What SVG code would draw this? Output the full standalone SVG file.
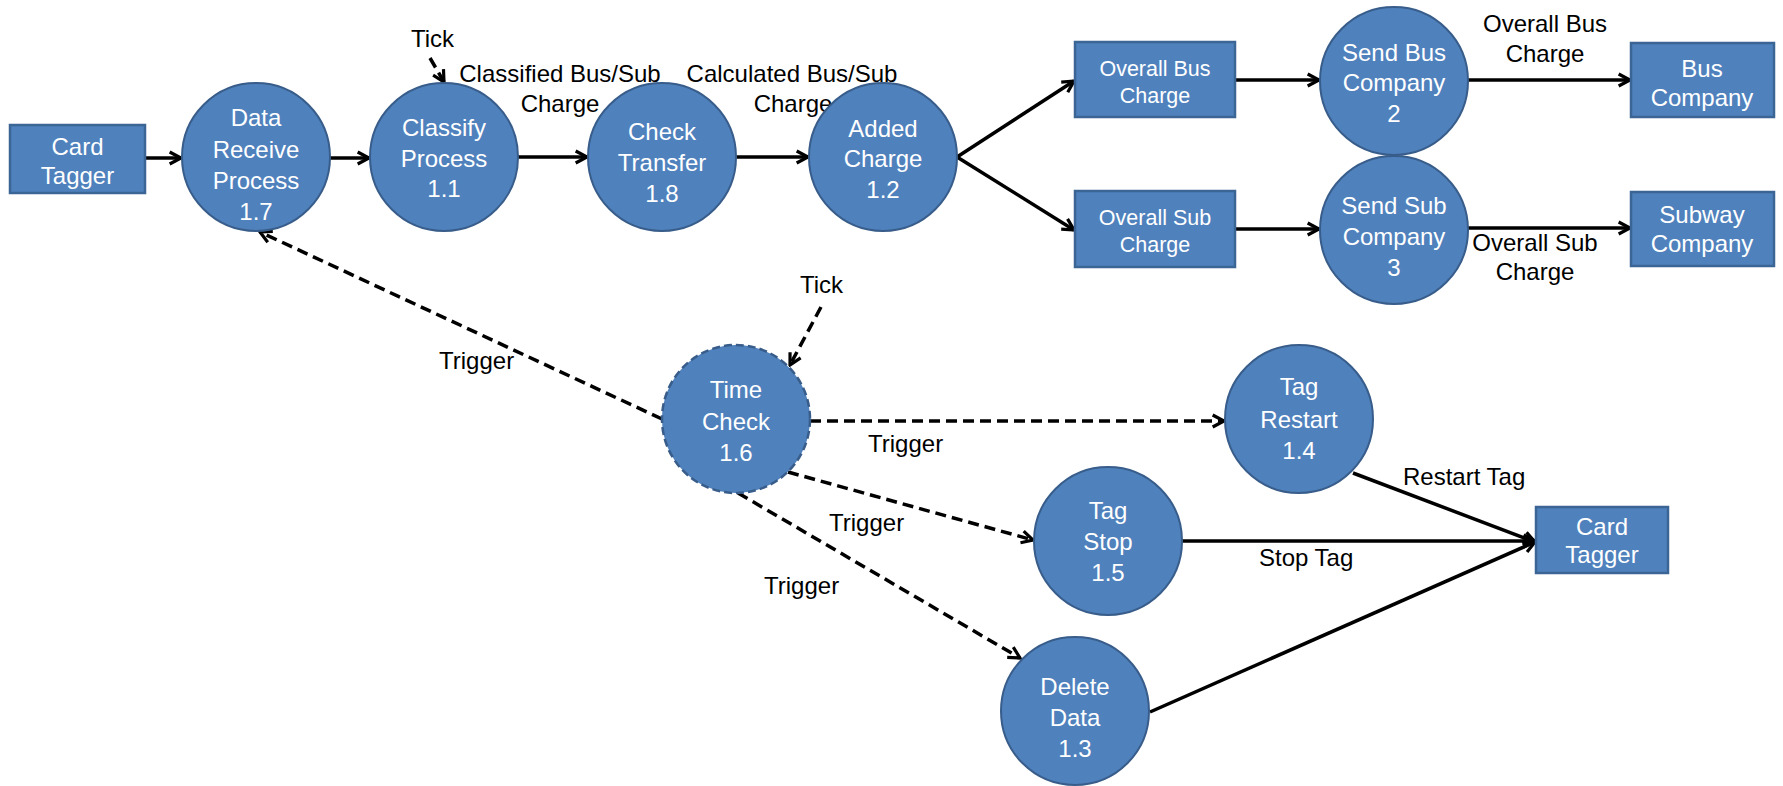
<svg xmlns="http://www.w3.org/2000/svg" width="1783" height="786" viewBox="0 0 1783 786">
<style>
.proc{fill:#4F81BD;stroke:#385D8A;stroke-width:2}
.proc-d{fill:#4F81BD;stroke:#385D8A;stroke-width:2.5;stroke-dasharray:8 4}
.box{fill:#4F81BD;stroke:#3A6594;stroke-width:2.5}
.nt{font-family:"Liberation Sans",Arial,sans-serif;font-size:24px;fill:#fff;text-anchor:middle}
.bt{font-family:"Liberation Sans",Arial,sans-serif;font-size:21.5px;fill:#fff;text-anchor:middle}
.lbl{font-family:"Liberation Sans",Arial,sans-serif;font-size:24px;fill:#000}
.c{text-anchor:middle}
.e{fill:none;stroke:#000;stroke-width:3.5;marker-end:url(#arr)}
.d{stroke-dasharray:11 6}
</style>
<defs>
<marker id="arr" viewBox="0 0 12 12" refX="10.5" refY="6" markerWidth="16" markerHeight="16" markerUnits="userSpaceOnUse" orient="auto">
<path d="M2,1.5 L10.5,6 L2,10.5" fill="none" stroke="#000" stroke-width="2.4" stroke-linejoin="miter"/>
</marker>
</defs>
<rect width="1783" height="786" fill="#fff"/>

<g id="connectors">
<line class="e" x1="145" y1="158" x2="181" y2="158"/>
<line class="e" x1="330" y1="158" x2="369" y2="158"/>
<line class="e" x1="518" y1="157" x2="587" y2="157"/>
<line class="e" x1="736" y1="157" x2="808" y2="157"/>
<line class="e" x1="957" y1="157" x2="1074" y2="81"/>
<line class="e" x1="957" y1="157" x2="1074" y2="230"/>
<line class="e" x1="1235" y1="80" x2="1319" y2="80"/>
<line class="e" x1="1235" y1="229" x2="1319" y2="229"/>
<line class="e" x1="1468" y1="80" x2="1630" y2="80"/>
<line class="e" x1="1468" y1="228" x2="1630" y2="228"/>
<line class="e d" x1="430" y1="58" x2="444" y2="82"/>
<line class="e d" x1="662" y1="419" x2="260" y2="232"/>
<line class="e d" x1="821" y1="307" x2="790" y2="365"/>
<line class="e d" x1="810" y1="421" x2="1224" y2="421"/>
<line class="e d" x1="788" y1="472" x2="1033" y2="540"/>
<line class="e d" x1="738" y1="493" x2="1020" y2="658"/>
<line class="e" x1="1353" y1="473" x2="1535" y2="542"/>
<line class="e" x1="1182" y1="541" x2="1535" y2="541"/>
<line class="e" x1="1150" y1="712" x2="1535" y2="542"/>
<g id="connector-labels">
<text class="lbl" x="411" y="47">Tick</text>
<text class="lbl c" x="560" y="82">Classified Bus/Sub</text>
<text class="lbl c" x="560" y="112">Charge</text>
<text class="lbl c" x="792" y="82">Calculated Bus/Sub</text>
<text class="lbl c" x="793" y="112">Charge</text>
<text class="lbl c" x="1545" y="32">Overall Bus</text>
<text class="lbl c" x="1545" y="62">Charge</text>
<text class="lbl c" x="1535" y="251">Overall Sub</text>
<text class="lbl c" x="1535" y="280">Charge</text>
<text class="lbl" x="439" y="369">Trigger</text>
<text class="lbl" x="800" y="293">Tick</text>
<text class="lbl" x="868" y="452">Trigger</text>
<text class="lbl" x="829" y="531">Trigger</text>
<text class="lbl" x="764" y="594">Trigger</text>
<text class="lbl" x="1403" y="485">Restart Tag</text>
<text class="lbl" x="1259" y="566">Stop Tag</text>
</g>
</g>

<g id="card-tagger-in">
<rect class="box" x="10" y="125" width="135" height="68"/>
<text class="nt" x="77.5" y="155">Card</text>
<text class="nt" x="77.5" y="184">Tagger</text>
</g>
<g id="p1-7">
<circle class="proc" cx="256" cy="157" r="74"/>
<text class="nt" x="256" y="126">Data</text>
<text class="nt" x="256" y="158">Receive</text>
<text class="nt" x="256" y="189">Process</text>
<text class="nt" x="256" y="220">1.7</text>
</g>
<g id="p1-1">
<circle class="proc" cx="444" cy="157" r="74"/>
<text class="nt" x="444" y="136">Classify</text>
<text class="nt" x="444" y="167">Process</text>
<text class="nt" x="444" y="197">1.1</text>
</g>
<g id="p1-8">
<circle class="proc" cx="662" cy="157" r="74"/>
<text class="nt" x="662" y="140">Check</text>
<text class="nt" x="662" y="171">Transfer</text>
<text class="nt" x="662" y="202">1.8</text>
</g>
<g id="p1-2">
<circle class="proc" cx="883" cy="157" r="74"/>
<text class="nt" x="883" y="137">Added</text>
<text class="nt" x="883" y="167">Charge</text>
<text class="nt" x="883" y="198">1.2</text>
</g>
<g id="overall-bus">
<rect class="box" x="1075" y="42" width="160" height="75"/>
<text class="bt" x="1155" y="76">Overall Bus</text>
<text class="bt" x="1155" y="103">Charge</text>
</g>
<g id="overall-sub">
<rect class="box" x="1075" y="191" width="160" height="76"/>
<text class="bt" x="1155" y="225">Overall Sub</text>
<text class="bt" x="1155" y="252">Charge</text>
</g>
<g id="p2">
<circle class="proc" cx="1394" cy="81" r="74"/>
<text class="nt" x="1394" y="61">Send Bus</text>
<text class="nt" x="1394" y="91">Company</text>
<text class="nt" x="1394" y="122">2</text>
</g>
<g id="p3">
<circle class="proc" cx="1394" cy="230" r="74"/>
<text class="nt" x="1394" y="214">Send Sub</text>
<text class="nt" x="1394" y="245">Company</text>
<text class="nt" x="1394" y="276">3</text>
</g>
<g id="bus-company">
<rect class="box" x="1631" y="43" width="143" height="74"/>
<text class="nt" x="1702" y="77">Bus</text>
<text class="nt" x="1702" y="106">Company</text>
</g>
<g id="subway-company">
<rect class="box" x="1631" y="192" width="143" height="74"/>
<text class="nt" x="1702" y="223">Subway</text>
<text class="nt" x="1702" y="252">Company</text>
</g>
<g id="p1-6">
<circle class="proc-d" cx="736" cy="419" r="74"/>
<text class="nt" x="736" y="398">Time</text>
<text class="nt" x="736" y="430">Check</text>
<text class="nt" x="736" y="461">1.6</text>
</g>
<g id="p1-4">
<circle class="proc" cx="1299" cy="419" r="74"/>
<text class="nt" x="1299" y="395">Tag</text>
<text class="nt" x="1299" y="428">Restart</text>
<text class="nt" x="1299" y="459">1.4</text>
</g>
<g id="p1-5">
<circle class="proc" cx="1108" cy="541" r="74"/>
<text class="nt" x="1108" y="519">Tag</text>
<text class="nt" x="1108" y="550">Stop</text>
<text class="nt" x="1108" y="581">1.5</text>
</g>
<g id="p1-3">
<circle class="proc" cx="1075" cy="711" r="74"/>
<text class="nt" x="1075" y="695">Delete</text>
<text class="nt" x="1075" y="726">Data</text>
<text class="nt" x="1075" y="757">1.3</text>
</g>
<g id="card-tagger-out">
<rect class="box" x="1536" y="507" width="132" height="66"/>
<text class="nt" x="1602" y="535">Card</text>
<text class="nt" x="1602" y="563">Tagger</text>
</g>
</svg>
